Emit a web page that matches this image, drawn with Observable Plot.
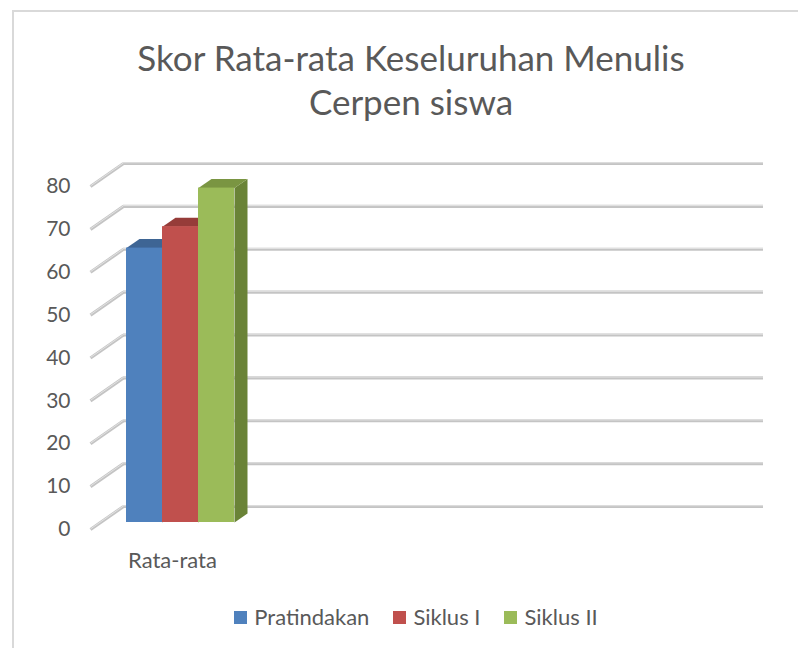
<!DOCTYPE html>
<html><head><meta charset="utf-8">
<script src="https://cdn.jsdelivr.net/npm/d3@7"></script>
<script src="https://cdn.jsdelivr.net/npm/@observablehq/plot@0.6"></script>
<style>
body{margin:0;background:#fff;}
#chart{position:relative;width:798px;height:648px;overflow:hidden;font-family:Lato,"Open Sans",sans-serif;color:#595959;background:#fff;}
#frame{position:absolute;left:12px;top:10px;width:820px;height:700px;border-left:2px solid #d9d9d9;border-top:2px solid #d9d9d9;}
#title{position:absolute;left:0;top:35px;width:822px;text-align:center;font-size:35px;line-height:44px;}
#legend{position:absolute;left:0;width:832px;top:604px;display:flex;justify-content:center;align-items:center;font-size:22px;line-height:26px;}
#legend .item{display:flex;align-items:center;margin:0 12px;}
#legend .sw{width:13px;height:13px;margin-right:7px;}
#plot{position:absolute;left:0;top:0;}
</style></head>
<body>
<div id="chart">
  <div id="frame"></div>
  <div id="plot"></div>
  <div id="title">Skor Rata-rata Keseluruhan Menulis<br>Cerpen siswa</div>
  <div id="legend"></div>
</div>
<script>
// ---- data ----
const categories = ["Rata-rata"];
const series = ["Pratindakan", "Siklus I", "Siklus II"];
const values = [64, 69, 78];
const yTicks = [0, 10, 20, 30, 40, 50, 60, 70, 80];

// ---- styles ----
const colors = ["#4F81BD", "#C0504D", "#9BBB59"];
const topColors = ["#3E6594", "#963C39", "#7A9542"];
const sideColors = ["#3A5E8B", "#8C3835", "#6A8337"];

const W = 798, H = 648, mL = 90, mR = 68, mT = 186, mB = 119;
const nSlots = 4, yMax = 80;
const pxPerX = (W - mL - mR) / nSlots, pxPerY = (H - mT - mB) / yMax;
const wallDX = 33 / pxPerX, wallDY = 23 / pxPerY;      // depth of back wall in data units
const barDX = 13 / pxPerX, barDY = 9 / pxPerY;         // depth of bars in data units
const barW = 0.225, groupW = barW * series.length;

const bars = series.map((s, i) => ({
  series: s, value: values[i], color: colors[i],
  x1: 0.5 - groupW / 2 + i * barW, x2: 0.5 - groupW / 2 + (i + 1) * barW
}));
const polys = [];
bars.forEach((b, i) => {
  // side face
  [[b.x2, 0], [b.x2, b.value], [b.x2 + barDX, b.value + barDY], [b.x2 + barDX, barDY]]
    .forEach(([x, y]) => polys.push({id: "s" + i, x, y, fill: sideColors[i]}));
  // top face
  [[b.x1, b.value], [b.x2, b.value], [b.x2 + barDX, b.value + barDY], [b.x1 + barDX, b.value + barDY]]
    .forEach(([x, y]) => polys.push({id: "t" + i, x, y, fill: topColors[i]}));
});

const chart = Plot.plot({
  width: W, height: H,
  marginLeft: mL, marginRight: mR, marginTop: mT, marginBottom: mB,
  x: {domain: [0, nSlots], axis: null},
  y: {domain: [0, yMax], axis: null},
  color: {type: "identity"},
  style: {fontFamily: "Lato, 'Open Sans', sans-serif", color: "#595959", background: "transparent", overflow: "visible"},
  marks: [
    Plot.ruleY(yTicks, {x1: 0, x2: nSlots, dx: 33, dy: -23, stroke: "#c4c4c4", strokeWidth: 3.2}),
    Plot.ruleY(yTicks, {x1: 0, x2: nSlots, dx: 33, dy: -23.8, stroke: "#e2e2e2", strokeWidth: 1}),
    Plot.link(yTicks, {x1: () => 0, y1: d => d, x2: () => wallDX, y2: d => d + wallDY, stroke: "#c4c4c4", strokeWidth: 3.2}),
    Plot.link(yTicks, {x1: () => 0, y1: d => d, x2: () => wallDX, y2: d => d + wallDY, stroke: "#e2e2e2", strokeWidth: 1, dy: -0.6}),
    Plot.text(yTicks, {x: () => 0, y: d => d, text: d => String(d), textAnchor: "end", dx: -20, fontSize: 21, fill: "#595959"}),
    Plot.line(polys, {x: "x", y: "y", z: "id", fill: "fill", stroke: "none", dx: 10, dy: -7}),
    Plot.rect(bars, {x1: "x1", x2: "x2", y1: () => 0, y2: "value", fill: "color", dx: 10, dy: -7}),
    Plot.text(categories, {x: (d, i) => i + 0.5, y: () => 0, text: d => d, dy: 31, dx: 2, fontSize: 22, fill: "#595959"})
  ]
});
document.getElementById("plot").appendChild(chart);

const legend = document.getElementById("legend");
series.forEach((s, i) => {
  const it = document.createElement("div");
  it.className = "item";
  it.innerHTML = `<span class="sw" style="background:${colors[i]}"></span><span>${s}</span>`;
  legend.appendChild(it);
});
</script>
</body></html>
